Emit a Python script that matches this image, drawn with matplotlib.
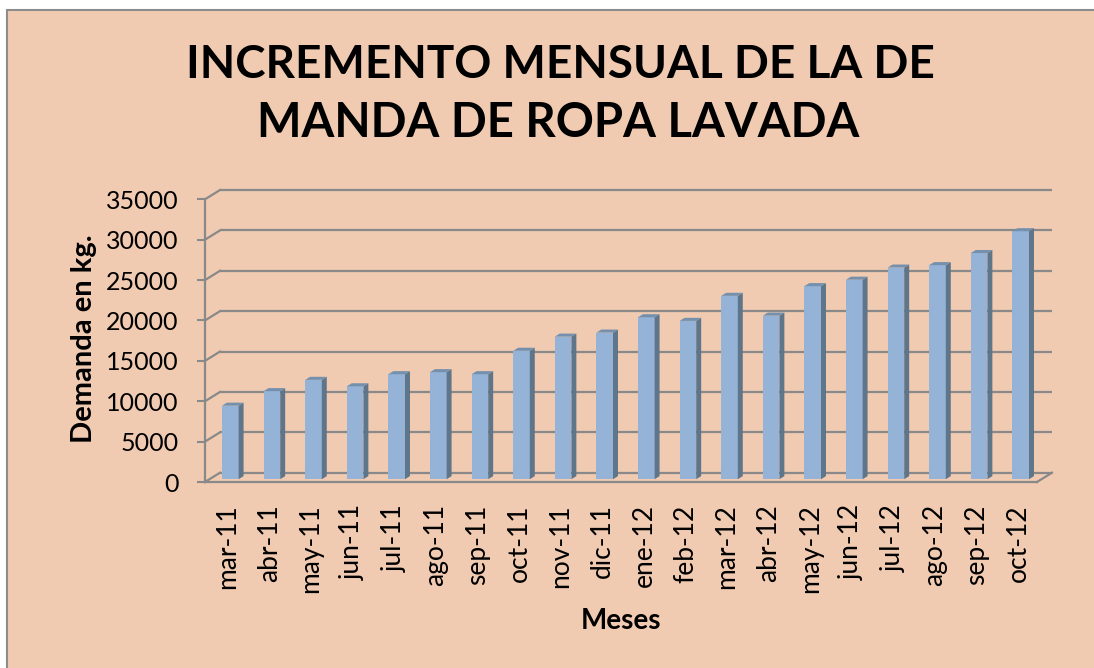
import matplotlib.pyplot as plt
import numpy as np
from matplotlib.patches import Polygon, Rectangle


# ============================================================
# Data
# ============================================================

months = [
    "mar-11", "abr-11", "may-11", "jun-11", "jul-11", "ago-11", "sep-11",
    "oct-11", "nov-11", "dic-11", "ene-12", "feb-12", "mar-12", "abr-12",
    "may-12", "jun-12", "jul-12", "ago-12", "sep-12", "oct-12",
]

demand_kg = [
    9100, 10900, 12300, 11500, 13000, 13250, 13000,
    15900, 17650, 18150, 20050, 19600, 22700, 20250,
    23900, 24700, 26200, 26500, 28000, 30700,
]

y_ticks = [0, 5000, 10000, 15000, 20000, 25000, 30000, 35000]

title_lines = ["INCREMENTO MENSUAL DE LA DE", "MANDA DE ROPA LAVADA"]


# ============================================================
# Style
# ============================================================

BACKGROUND = "#F0CBB2"
BORDER = "#8C8C8C"
GRID = "#898989"
BAR_FRONT = "#95B3D7"
BAR_SIDE = "#5F7589"
BAR_TOP = "#7590AD"

W, H = 1094, 668

# front plane of the 3D box, in pixels from the top-left corner
LEFT, RIGHT, BOTTOM, TOP = 205, 1037, 482, 199.3
DEPTH_PX = (15, 9.3)

# bars sit part way into the box
BAR_FRONT_DEPTH = 0.30
BAR_BACK_DEPTH = 0.63
BAR_WIDTH = 0.40

plt.rcParams["font.family"] = ["Lato", "DejaVu Sans"]


def draw_3d_bars(ax, x, values, dx, dy):
    """
    Column bars with a shaded side and top face.
    """

    fx, fy = BAR_FRONT_DEPTH * dx, BAR_FRONT_DEPTH * dy
    sx = (BAR_BACK_DEPTH - BAR_FRONT_DEPTH) * dx
    sy = (BAR_BACK_DEPTH - BAR_FRONT_DEPTH) * dy

    bars = ax.bar(
        x + fx,
        values,
        width=BAR_WIDTH,
        bottom=fy,
        color=BAR_FRONT,
        linewidth=0,
        zorder=3,
    )

    for bar in bars:
        x0 = bar.get_x()
        x1 = x0 + bar.get_width()
        y0 = bar.get_y()
        y1 = y0 + bar.get_height()

        side = Polygon(
            [(x1, y0), (x1 + sx, y0 + sy), (x1 + sx, y1 + sy), (x1, y1)],
            closed=True,
            facecolor=BAR_SIDE,
            linewidth=0,
            zorder=3,
        )
        top = Polygon(
            [(x0, y1), (x1, y1), (x1 + sx, y1 + sy), (x0 + sx, y1 + sy)],
            closed=True,
            facecolor=BAR_TOP,
            linewidth=0,
            zorder=3,
        )
        ax.add_patch(side)
        ax.add_patch(top)


fig = plt.figure(figsize=(W / 100, H / 100), dpi=100, facecolor="white")

# chart area with its thin border
fig.add_artist(
    Rectangle(
        (7 / W, -0.05),
        1.1,
        (H - 10) / H + 0.05,
        transform=fig.transFigure,
        facecolor=BACKGROUND,
        edgecolor=BORDER,
        linewidth=1.5,
        zorder=0,
    )
)

n = len(months)
y_max = y_ticks[-1]

ax = fig.add_axes(
    [LEFT / W, 1 - BOTTOM / H, (RIGHT - LEFT) / W, (BOTTOM - TOP) / H]
)
ax.set_facecolor("none")
ax.set_xlim(0, n)
ax.set_ylim(0, y_max)

# depth of the box in data units
dx = DEPTH_PX[0] / (RIGHT - LEFT) * n
dy = DEPTH_PX[1] / (BOTTOM - TOP) * y_max

# ------------------------------------------------------------
# Back wall gridlines and the diagonals to the front axis
# ------------------------------------------------------------

for v in y_ticks:
    ax.plot([dx, n + dx], [v + dy, v + dy], color=GRID, lw=1.6,
            clip_on=False, solid_capstyle="butt", zorder=1)
    ax.plot([0, dx], [v, v + dy], color=GRID, lw=1.6,
            clip_on=False, zorder=1)

# right edge of the floor
ax.plot([n, n + dx], [0, dy], color=GRID, lw=1.6, clip_on=False, zorder=1)

x = np.arange(n) + 0.5
draw_3d_bars(ax, x, demand_kg, dx, dy)

# ------------------------------------------------------------
# Axes
# ------------------------------------------------------------

for side in ["top", "right"]:
    ax.spines[side].set_visible(False)
for side in ["left", "bottom"]:
    ax.spines[side].set_color(GRID)
    ax.spines[side].set_linewidth(1.6)
    ax.spines[side].set_zorder(4)

ax.set_yticks(y_ticks)
ax.set_yticklabels([str(v) for v in y_ticks])
ax.tick_params(axis="y", length=6, width=1.5, color=GRID,
               pad=13, labelsize=18)

ax.set_xticks(x + 0.05)
ax.set_xticklabels(months, rotation=90)
ax.tick_params(axis="x", length=0, pad=16, labelsize=19)

fig.text(84 / W, 1 - 339 / H, "Demanda en kg.", rotation=90,
         ha="center", va="center", fontsize=21, fontweight="bold")
fig.text(621 / W, 1 - 621 / H, "Meses", ha="center", va="center",
         fontsize=20, fontweight="bold")

fig.text(560 / W, 1 - 78 / H, title_lines[0], ha="center",
         va="baseline", fontsize=33, fontweight="bold")
fig.text(558 / W, 1 - 137 / H, title_lines[1], ha="center",
         va="baseline", fontsize=34, fontweight="bold")

fig.savefig("out.png", dpi=100)
plt.close(fig)
